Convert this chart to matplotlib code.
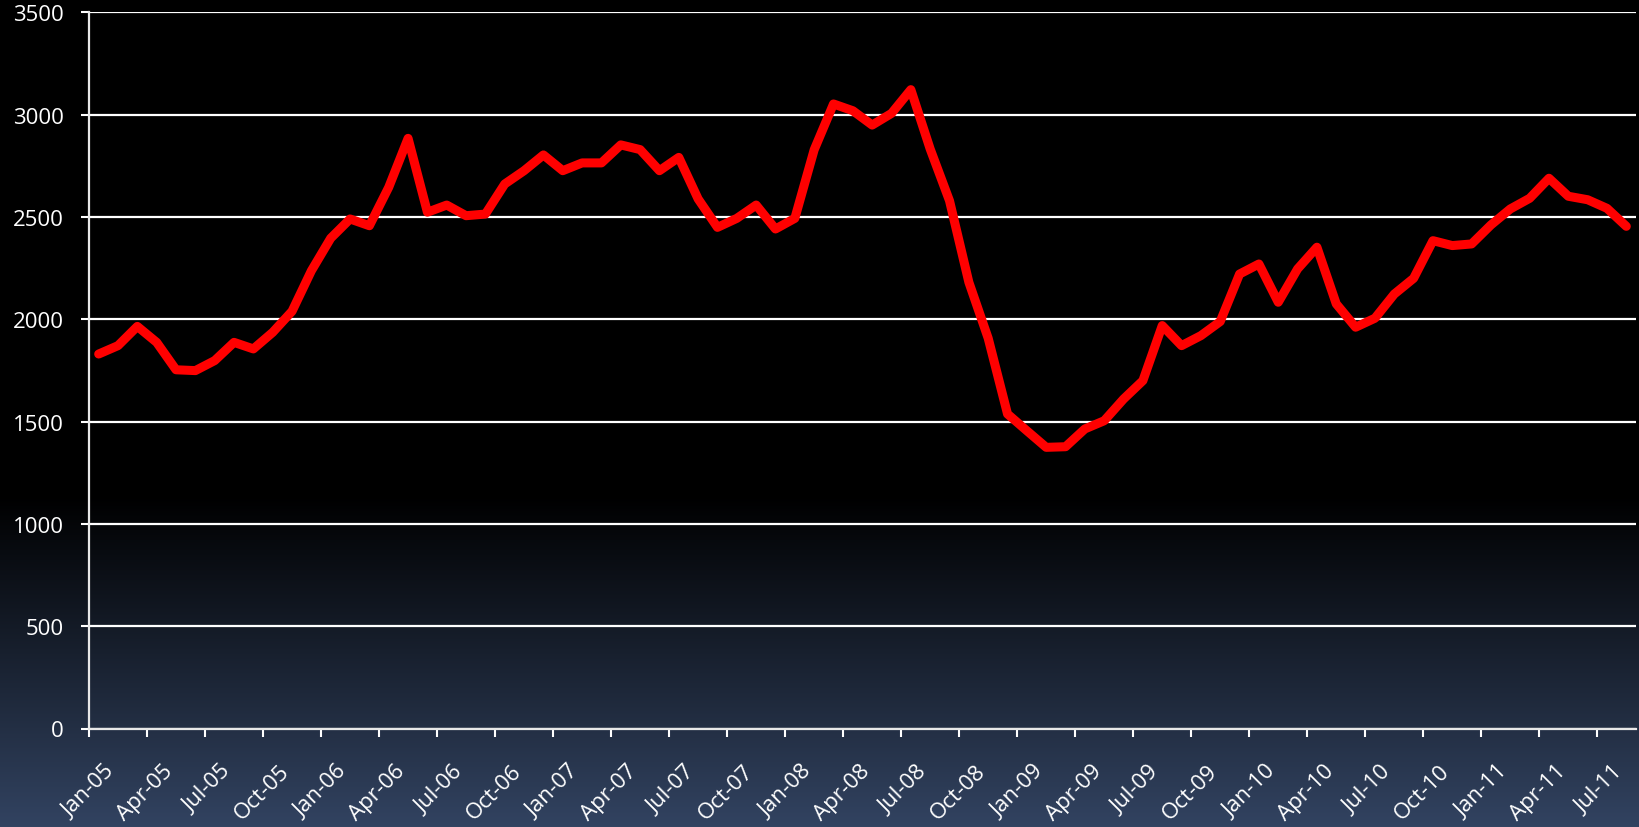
import numpy as np
import matplotlib
matplotlib.use('Agg')
import matplotlib.pyplot as plt
from matplotlib.transforms import ScaledTranslation

# monthly values, Jan-05 .. Aug-11
values = [1830, 1871, 1965, 1887, 1753, 1749, 1798, 1887, 1855, 1936,
          2039, 2237, 2396, 2490, 2457, 2645, 2884, 2523, 2558, 2506,
          2514, 2661, 2726, 2803, 2726, 2764, 2764, 2852, 2829, 2726,
          2791, 2588, 2449, 2493, 2558, 2441, 2493, 2828, 3052, 3019,
          2949, 3006, 3122, 2832, 2579, 2181, 1907, 1537, 1455, 1374,
          1377, 1464, 1504, 1610, 1700, 1969, 1871, 1920, 1989, 2221,
          2270, 2083, 2246, 2352, 2075, 1961, 2005, 2123, 2200, 2384,
          2360, 2368, 2461, 2539, 2591, 2689, 2601, 2584, 2542, 2454]

tick_labels = ['Jan-05', 'Apr-05', 'Jul-05', 'Oct-05',
               'Jan-06', 'Apr-06', 'Jul-06', 'Oct-06',
               'Jan-07', 'Apr-07', 'Jul-07', 'Oct-07',
               'Jan-08', 'Apr-08', 'Jul-08', 'Oct-08',
               'Jan-09', 'Apr-09', 'Jul-09', 'Oct-09',
               'Jan-10', 'Apr-10', 'Jul-10', 'Oct-10',
               'Jan-11', 'Apr-11', 'Jul-11']

plt.rcParams['font.family'] = ['Open Sans', 'DejaVu Sans']

W, H = 1640, 828
fig = plt.figure(figsize=(W / 100, H / 100), dpi=100)

# background: black on top, fading into dark navy at the bottom
bg = fig.add_axes([0, 0, 1, 1], zorder=0)
f = np.linspace(1, 0, H)[:, None]          # 1 = top, 0 = bottom
t = np.clip((0.40 - f) / 0.40, 0, 1)
bottom_rgb = np.array([50, 67, 97]) / 255.0
grad = t[:, :, None] * bottom_rgb[None, None, :]
bg.imshow(grad, aspect='auto', extent=[0, 1, 0, 1])
bg.axis('off')

ax = fig.add_axes([89 / W, 1 - 729.5 / H, (1636 - 89) / W, (729.5 - 13.3) / H], zorder=1)
ax.patch.set_alpha(0)

x = np.arange(len(values))
ax.plot(x, values, color='#ff0000', lw=6.5, solid_joinstyle='round',
        solid_capstyle='round', zorder=3)

ax.set_xlim(-0.5, len(values) - 0.5)
ax.set_ylim(0, 3500)
ax.set_yticks(range(0, 3501, 500))
ax.yaxis.grid(True, color='white', lw=1.6)
ax.set_axisbelow(True)

for s in ['top', 'right']:
    ax.spines[s].set_visible(False)
for s in ['left', 'bottom']:
    ax.spines[s].set_color('#e8e8e8')
    ax.spines[s].set_linewidth(1.6)

ax.tick_params(axis='y', colors='white', length=6, width=1.5, pad=12, labelsize=16)

ax.set_xticks(np.arange(-0.5, len(values) - 2, 3))
ax.set_xticklabels([])
ax.set_xticks(np.arange(0, len(values), 3), minor=True)
ax.set_xticklabels(tick_labels, minor=True, rotation=45, ha='right', va='top',
                   rotation_mode='anchor', color='white', fontsize=16)
ax.tick_params(axis='x', which='major', color='white', length=6, width=1.5)
ax.tick_params(axis='x', which='minor', length=0, pad=23)
shift = ScaledTranslation(6 / 100, 0, fig.dpi_scale_trans)
for lab in ax.get_xticklabels(minor=True):
    lab.set_transform(lab.get_transform() + shift)

fig.savefig('out.png', dpi=100)
